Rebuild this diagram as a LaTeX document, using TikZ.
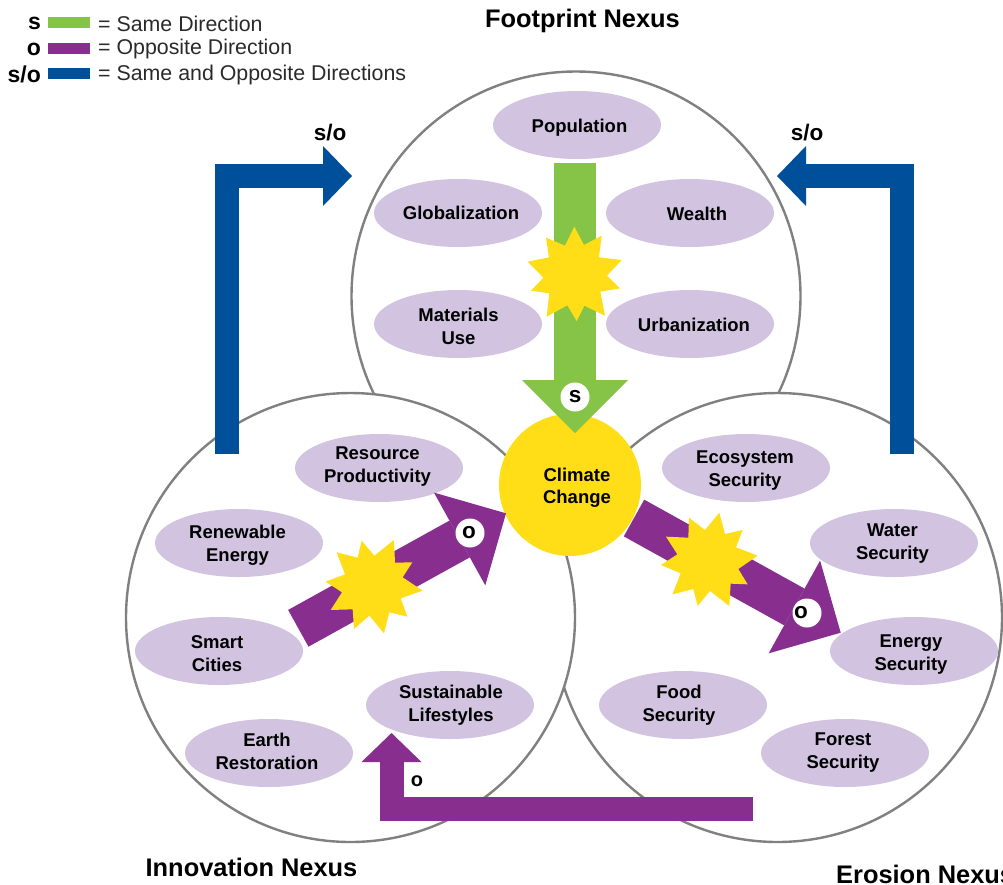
\documentclass[tikz,border=0pt]{standalone}
\usepackage{fontspec}
\setmainfont{Liberation Sans}
\usetikzlibrary{arrows.meta,shapes.geometric}
\definecolor{cgreen}{HTML}{85C446}
\definecolor{cpurple}{HTML}{872E8F}
\definecolor{cblue}{HTML}{004F9A}
\definecolor{cyellow}{HTML}{FFDD17}
\definecolor{clilac}{HTML}{D2C4E1}
\definecolor{cring}{HTML}{808080}
\definecolor{ctext}{HTML}{2A2A2A}
\tikzset{
  x=1pt,y=-1pt,
  ring/.style={circle,draw=cring,fill=white,line width=2.4pt,minimum size=449pt,inner sep=0pt},
  bub/.style={ellipse,fill=clilac,minimum width=168pt,minimum height=68pt,inner sep=0pt},
  bubtext/.style={inner sep=0pt,align=center,font=\bfseries\fontsize{18.5}{23}\selectfont,text=black},
  core/.style={circle,fill=cyellow,minimum size=142pt,inner sep=0pt},
  title/.style={font=\bfseries\fontsize{25.4}{28}\selectfont,text=black,inner sep=0pt},
  lab/.style={font=\bfseries\fontsize{22.5}{24}\selectfont,text=black,inner sep=0pt},
  legtext/.style={font=\fontsize{21.35}{24}\selectfont,text=ctext,anchor=west,inner sep=0pt},
  legkey/.style={anchor=east,font=\bfseries\fontsize{23}{24}\selectfont,text=black,inner sep=0pt},
  bar/.style={anchor=west,minimum width=42pt,minimum height=11pt,inner sep=0pt},
  dot/.style={circle,fill=white,minimum size=29pt,inner sep=0pt},
  bigarrow/.style={line width=42pt,-{Triangle[length=53pt,width=106pt,line width=0pt]}},
  thinarrow/.style={line width=24pt,-{Triangle[length=29pt,width=60pt,line width=0pt]}},
  burst/.style={fill=cyellow,scale=0.3333}
}
\begin{document}
\begin{tikzpicture}
\useasboundingbox (0,0) rectangle (1003,884);
% rings
\node[ring] (footprint) at (576,296) {};
\node[ring] (erosion) at (777.5,617.5) {};
\node[ring] (innovation) at (350.5,617.5) {};
% right purple arrow passes under the core
\coordinate (rs) at (634,518);
\coordinate (rt) at (840.7,632.7);
\draw[cpurple,bigarrow] (rs) -- (rt);
% bubbles
\node[bub] (population) at (577,125) {};
\node[bubtext] (populationT) at (579.5,128) {Population};
\node[bub] (globalization) at (458,213) {};
\node[bubtext] (globalizationT) at (461,213) {Globalization};
\node[bub] (wealth) at (690,213) {};
\node[bubtext] (wealthT) at (697,214) {Wealth};
\node[bub] (materials) at (458,324) {};
\node[bubtext] (materialsT) at (458.5,326) {Materials\\Use};
\node[bub] (urbanization) at (690,324) {};
\node[bubtext] (urbanizationT) at (694,325) {Urbanization};
\node[bub] (ecosystem) at (746,468) {};
\node[bubtext] (ecosystemT) at (745,471) {Ecosystem\\Security};
\node[bub] (water) at (894,543) {};
\node[bubtext] (waterT) at (892.5,544) {Water\\Security};
\node[bub] (energy) at (914,651) {};
\node[bubtext] (energyT) at (911,655) {Energy\\Security};
\node[bub] (food) at (683,705) {};
\node[bubtext] (foodT) at (679,705) {Food\\Security};
\node[bub] (forest) at (845,753) {};
\node[bubtext] (forestT) at (843,753) {Forest\\Security};
\node[bub] (resource) at (379,468) {};
\node[bubtext] (resourceT) at (377.5,467) {Resource\\Productivity};
\node[bub] (renewable) at (239,543) {};
\node[bubtext] (renewableT) at (237.5,545) {Renewable\\Energy};
\node[bub] (smart) at (219,651) {};
\node[bubtext] (smartT) at (217,654) {Smart\\Cities};
\node[bub] (sustainable) at (450,705) {};
\node[bubtext] (sustainableT) at (451,705) {Sustainable\\Lifestyles};
\node[bub] (earth) at (269,753) {};
\node[bubtext] (earthT) at (267,751) {Earth\\Restoration};
% core
\node[core] (climate) at (570,485) {};
\node[bubtext,font=\bfseries\fontsize{18.5}{22}\selectfont] (climateT) at (577,487.5) {Climate\\Change};
% green arrow
\coordinate (gs) at (575,163);
\coordinate (gt) at (575,433);
\draw[cgreen,bigarrow] (gs) -- (gt);
% left purple arrow
\coordinate (ls) at (298.3,628.3);
\coordinate (lt) at (506,513.3);
\draw[cpurple,bigarrow] (ls) -- (lt);
% bursts
\fill[shift={(480,200)},burst]
  (283,80)--(312,135)--(365,107)--(357,172)--(425,180)--(381,227)--(420,265)--(361,275)--(375,347)--(313,317)--(290,363)--(262,316)--(200,350)--(208,280)--(153,272)--(190,233)--(143,185)--(207,172)--(198,113)--(255,137)--cycle;
\fill[shift={(280,480)},burst]
  (245,182)--(283,227)--(342,180)--(345,248)--(397,247)--(368,292)--(428,332)--(362,355)--(382,410)--(328,397)--(312,460)--(268,407)--(222,447)--(218,388)--(152,390)--(186,337)--(137,305)--(195,283)--(170,217)--(233,233)--cycle;
\fill[shift={(620,490)},burst]
  (298,68)--(315,132)--(368,120)--(348,172)--(413,197)--(355,237)--(383,283)--(332,281)--(328,348)--(270,303)--(233,348)--(220,297)--(157,313)--(182,250)--(123,225)--(172,193)--(138,140)--(205,143)--(207,83)--(255,120)--cycle;
% dots
\node[dot] (dots) at (575,397) {};
\node[lab] (dotsT) at (575,397) {s};
\node[dot] (dotl) at (470,533) {};
\node[lab] (dotlT) at (469,533) {o};
\node[dot] (dotr) at (807,613) {};
\node[lab] (dotrT) at (801,613) {o};
% blue arrows
\coordinate (bla) at (227,454);
\coordinate (blb) at (227,176);
\coordinate (blc) at (352,176);
\draw[cblue,thinarrow] (bla) -- (blb) -- (blc);
\coordinate (bra) at (902,454);
\coordinate (brb) at (902,176);
\coordinate (brc) at (777,176);
\draw[cblue,thinarrow] (bra) -- (brb) -- (brc);
% bottom purple
\coordinate (pa) at (753,808.5);
\coordinate (pb) at (391.5,808.5);
\coordinate (pc) at (391.5,733);
\draw[cpurple,thinarrow] (pa) -- (pb) -- (pc);
% labels
\node[lab] (solft) at (330,133) {s/o};
\node[lab] (sorgt) at (807,133) {s/o};
\node[lab,font=\bfseries\fontsize{20}{24}\selectfont] (obot) at (417,781) {o};
% titles
\node[title] (tfoot) at (582.5,21) {Footprint Nexus};
\node[title] (tinno) at (251.5,867) {Innovation Nexus};
\node[title,anchor=west] (tero) at (836,874) {Erosion Nexus};
% legend
\node[legkey] (ks) at (41,23.5) {s};
\node[legkey] (ko) at (41,49) {o};
\node[legkey] (kso) at (41,74) {s/o};
\node[bar,fill=cgreen] (bs) at (48,22.5) {};
\node[bar,fill=cpurple] (bo) at (48,48.5) {};
\node[bar,fill=cblue] (bso) at (48,73.5) {};
\node[legtext] (ls1) at (98,23.5) {= Same Direction};
\node[legtext] (ls2) at (98,49) {= Opposite Direction};
\node[legtext] (ls3) at (98,75) {= Same and Opposite Directions};
\end{tikzpicture}
\end{document}
